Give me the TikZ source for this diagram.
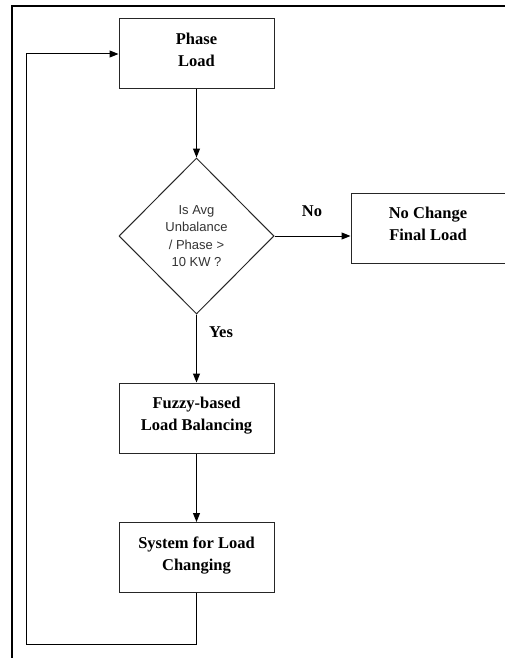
\documentclass[tikz,border=0pt]{standalone}
\usepackage{fontspec}
\setmainfont{Liberation Serif}
\newfontfamily\diafont{Liberation Sans}
\usetikzlibrary{shapes.geometric,arrows.meta}

\begin{document}
\begin{tikzpicture}[x=1pt, y=-1pt, ->, >={Triangle[length=9pt,width=7pt]}, line width=1pt,
    box/.style={draw=black!85, rectangle, minimum width=155pt, minimum height=70pt, inner sep=0pt,
      text depth=8pt, align=center, font=\fontsize{16.5}{22}\selectfont\bfseries},
    decision/.style={draw=black!85, diamond, minimum width=155pt, minimum height=156pt, inner sep=0pt,
      align=center, text=black!80, font=\diafont\fontsize{13}{17.6}\selectfont},
    lbl/.style={font=\fontsize{16.5}{19}\selectfont\bfseries}]
        \useasboundingbox (0,0) rectangle (505,658);

        \node[box] (phase) at (196.5,54) {Phase\\Load};
        \node[decision] (dec) at (196.5,236) {Is Avg\\Unbalance\\/ Phase >\\10 KW ?};
        \node[box, minimum width=154pt] (nochg) at (428,228) {No Change\\Final Load};
        \node[box] (fuzzy) at (196.5,418) {Fuzzy-based\\Load Balancing};
        \node[box] (sys) at (196.5,557.5) {System for Load\\Changing};
        \node[lbl] (no) at (312,211) {No};
        \node[lbl] (yes) at (221,332) {Yes};
        \coordinate (loopl) at (26,644);

        % frame
        \draw[-, line width=2pt] (12,658) -- (12,6) -- (505,6);

        \draw (phase) to (dec);
        \draw (dec.east) to (dec.east -| nochg.west);
        \draw (dec) to (fuzzy);
        \draw (fuzzy) to (sys);
        \draw (sys.south) |- (loopl) |- (phase.west);

      \end{tikzpicture}
\end{document}
